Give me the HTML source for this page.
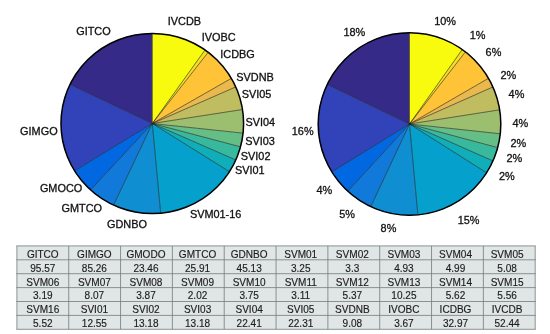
<!DOCTYPE html>
<html><head><meta charset="utf-8"><title>Pie</title>
<style>
html,body{margin:0;padding:0;background:#fff;}
svg{display:block;will-change:transform}
text{font-family:"Liberation Sans",Arial,Helvetica,sans-serif;fill:#111;stroke:#111;stroke-width:0.3px}
.pl text{font-size:10.9px}
.tb text{font-size:10.05px;fill:#1c1c1c;stroke:#1c1c1c;stroke-width:0.15px}
.tb line{stroke:#737b7b;stroke-width:0.8}
</style></head><body>
<svg width="550" height="334" viewBox="0 0 550 334">
<rect width="550" height="334" fill="#fff"/>
<g><path d="M152.30,123.50L152.30,33.40A91.3,90.1 0 0 0 70.03,84.44Z" fill="#352A87" stroke="#352A87" stroke-width="0.3"/>
<path d="M152.30,123.50L70.03,84.44A91.3,90.1 0 0 0 74.60,170.82Z" fill="#3243BA" stroke="#3243BA" stroke-width="0.3"/>
<path d="M152.30,123.50L74.60,170.82A91.3,90.1 0 0 0 90.58,189.89Z" fill="#0268E1" stroke="#0268E1" stroke-width="0.3"/>
<path d="M152.30,123.50L90.58,189.89A91.3,90.1 0 0 0 113.57,205.09Z" fill="#1079DA" stroke="#1079DA" stroke-width="0.3"/>
<path d="M152.30,123.50L113.57,205.09A91.3,90.1 0 0 0 160.68,213.22Z" fill="#108ED2" stroke="#108ED2" stroke-width="0.3"/>
<path d="M152.30,123.50L160.68,213.22A91.3,90.1 0 0 0 229.45,171.68Z" fill="#06A0CD" stroke="#06A0CD" stroke-width="0.3"/>
<path d="M152.30,123.50L229.45,171.68A91.3,90.1 0 0 0 235.78,159.98Z" fill="#0FAEB9" stroke="#0FAEB9" stroke-width="0.3"/>
<path d="M152.30,123.50L235.78,159.98A91.3,90.1 0 0 0 240.48,146.84Z" fill="#38B99E" stroke="#38B99E" stroke-width="0.3"/>
<path d="M152.30,123.50L240.48,146.84A91.3,90.1 0 0 0 243.08,133.14Z" fill="#65BE86" stroke="#65BE86" stroke-width="0.3"/>
<path d="M152.30,123.50L243.08,133.14A91.3,90.1 0 0 0 242.49,109.50Z" fill="#9CBF6F" stroke="#9CBF6F" stroke-width="0.3"/>
<path d="M152.30,123.50L242.49,109.50A91.3,90.1 0 0 0 235.74,86.93Z" fill="#C0BC60" stroke="#C0BC60" stroke-width="0.3"/>
<path d="M152.30,123.50L235.74,86.93A91.3,90.1 0 0 0 231.32,78.37Z" fill="#E9B94E" stroke="#E9B94E" stroke-width="0.3"/>
<path d="M152.30,123.50L231.32,78.37A91.3,90.1 0 0 0 208.20,52.26Z" fill="#FFC337" stroke="#FFC337" stroke-width="0.3"/>
<path d="M152.30,123.50L208.20,52.26A91.3,90.1 0 0 0 205.04,49.95Z" fill="#F5DE21" stroke="#F5DE21" stroke-width="0.3"/>
<path d="M152.30,123.50L205.04,49.95A91.3,90.1 0 0 0 152.30,33.40Z" fill="#F9FB0E" stroke="#F9FB0E" stroke-width="0.3"/>
<line x1="152.30" y1="123.50" x2="152.30" y2="33.80" stroke="#1c1c1c" stroke-width="0.6"/>
<line x1="152.30" y1="123.50" x2="70.39" y2="84.61" stroke="#1c1c1c" stroke-width="0.6"/>
<line x1="152.30" y1="123.50" x2="74.94" y2="170.61" stroke="#1c1c1c" stroke-width="0.6"/>
<line x1="152.30" y1="123.50" x2="90.85" y2="189.60" stroke="#1c1c1c" stroke-width="0.6"/>
<line x1="152.30" y1="123.50" x2="113.74" y2="204.73" stroke="#1c1c1c" stroke-width="0.6"/>
<line x1="152.30" y1="123.50" x2="160.65" y2="212.82" stroke="#1c1c1c" stroke-width="0.6"/>
<line x1="152.30" y1="123.50" x2="229.11" y2="171.47" stroke="#1c1c1c" stroke-width="0.6"/>
<line x1="152.30" y1="123.50" x2="235.42" y2="159.81" stroke="#1c1c1c" stroke-width="0.6"/>
<line x1="152.30" y1="123.50" x2="240.10" y2="146.73" stroke="#1c1c1c" stroke-width="0.6"/>
<line x1="152.30" y1="123.50" x2="242.68" y2="133.10" stroke="#1c1c1c" stroke-width="0.6"/>
<line x1="152.30" y1="123.50" x2="242.10" y2="109.57" stroke="#1c1c1c" stroke-width="0.6"/>
<line x1="152.30" y1="123.50" x2="235.37" y2="87.09" stroke="#1c1c1c" stroke-width="0.6"/>
<line x1="152.30" y1="123.50" x2="230.98" y2="78.57" stroke="#1c1c1c" stroke-width="0.6"/>
<line x1="152.30" y1="123.50" x2="207.96" y2="52.58" stroke="#1c1c1c" stroke-width="0.6"/>
<line x1="152.30" y1="123.50" x2="204.81" y2="50.28" stroke="#1c1c1c" stroke-width="0.6"/>
<ellipse cx="152.3" cy="123.5" rx="91.3" ry="90.1" fill="none" stroke="#000" stroke-width="1.5"/></g>
<g><path d="M409.50,124.00L409.50,32.75A91.3,91.25 0 0 0 327.23,84.44Z" fill="#352A87" stroke="#352A87" stroke-width="0.3"/>
<path d="M409.50,124.00L327.23,84.44A91.3,91.25 0 0 0 331.80,171.92Z" fill="#3243BA" stroke="#3243BA" stroke-width="0.3"/>
<path d="M409.50,124.00L331.80,171.92A91.3,91.25 0 0 0 347.78,191.24Z" fill="#0268E1" stroke="#0268E1" stroke-width="0.3"/>
<path d="M409.50,124.00L347.78,191.24A91.3,91.25 0 0 0 370.77,206.63Z" fill="#1079DA" stroke="#1079DA" stroke-width="0.3"/>
<path d="M409.50,124.00L370.77,206.63A91.3,91.25 0 0 0 417.88,214.86Z" fill="#108ED2" stroke="#108ED2" stroke-width="0.3"/>
<path d="M409.50,124.00L417.88,214.86A91.3,91.25 0 0 0 486.65,172.79Z" fill="#06A0CD" stroke="#06A0CD" stroke-width="0.3"/>
<path d="M409.50,124.00L486.65,172.79A91.3,91.25 0 0 0 492.98,160.94Z" fill="#0FAEB9" stroke="#0FAEB9" stroke-width="0.3"/>
<path d="M409.50,124.00L492.98,160.94A91.3,91.25 0 0 0 497.68,147.64Z" fill="#38B99E" stroke="#38B99E" stroke-width="0.3"/>
<path d="M409.50,124.00L497.68,147.64A91.3,91.25 0 0 0 500.28,133.77Z" fill="#65BE86" stroke="#65BE86" stroke-width="0.3"/>
<path d="M409.50,124.00L500.28,133.77A91.3,91.25 0 0 0 499.69,109.83Z" fill="#9CBF6F" stroke="#9CBF6F" stroke-width="0.3"/>
<path d="M409.50,124.00L499.69,109.83A91.3,91.25 0 0 0 492.94,86.96Z" fill="#C0BC60" stroke="#C0BC60" stroke-width="0.3"/>
<path d="M409.50,124.00L492.94,86.96A91.3,91.25 0 0 0 488.52,78.29Z" fill="#E9B94E" stroke="#E9B94E" stroke-width="0.3"/>
<path d="M409.50,124.00L488.52,78.29A91.3,91.25 0 0 0 465.40,51.86Z" fill="#FFC337" stroke="#FFC337" stroke-width="0.3"/>
<path d="M409.50,124.00L465.40,51.86A91.3,91.25 0 0 0 462.24,49.52Z" fill="#F5DE21" stroke="#F5DE21" stroke-width="0.3"/>
<path d="M409.50,124.00L462.24,49.52A91.3,91.25 0 0 0 409.50,32.75Z" fill="#F9FB0E" stroke="#F9FB0E" stroke-width="0.3"/>
<line x1="409.50" y1="124.00" x2="409.50" y2="33.15" stroke="#1c1c1c" stroke-width="0.6"/>
<line x1="409.50" y1="124.00" x2="327.59" y2="84.61" stroke="#1c1c1c" stroke-width="0.6"/>
<line x1="409.50" y1="124.00" x2="332.14" y2="171.71" stroke="#1c1c1c" stroke-width="0.6"/>
<line x1="409.50" y1="124.00" x2="348.05" y2="190.95" stroke="#1c1c1c" stroke-width="0.6"/>
<line x1="409.50" y1="124.00" x2="370.94" y2="206.27" stroke="#1c1c1c" stroke-width="0.6"/>
<line x1="409.50" y1="124.00" x2="417.85" y2="214.47" stroke="#1c1c1c" stroke-width="0.6"/>
<line x1="409.50" y1="124.00" x2="486.31" y2="172.58" stroke="#1c1c1c" stroke-width="0.6"/>
<line x1="409.50" y1="124.00" x2="492.62" y2="160.78" stroke="#1c1c1c" stroke-width="0.6"/>
<line x1="409.50" y1="124.00" x2="497.30" y2="147.53" stroke="#1c1c1c" stroke-width="0.6"/>
<line x1="409.50" y1="124.00" x2="499.88" y2="133.72" stroke="#1c1c1c" stroke-width="0.6"/>
<line x1="409.50" y1="124.00" x2="499.30" y2="109.89" stroke="#1c1c1c" stroke-width="0.6"/>
<line x1="409.50" y1="124.00" x2="492.57" y2="87.12" stroke="#1c1c1c" stroke-width="0.6"/>
<line x1="409.50" y1="124.00" x2="488.18" y2="78.49" stroke="#1c1c1c" stroke-width="0.6"/>
<line x1="409.50" y1="124.00" x2="465.16" y2="52.17" stroke="#1c1c1c" stroke-width="0.6"/>
<line x1="409.50" y1="124.00" x2="462.01" y2="49.84" stroke="#1c1c1c" stroke-width="0.6"/>
<ellipse cx="409.5" cy="124.0" rx="91.3" ry="91.25" fill="none" stroke="#000" stroke-width="1.5"/></g>
<g class="pl"><text x="76.20" y="35.1" text-anchor="start">GITCO</text>
<text x="167.80" y="24.6" text-anchor="start">IVCDB</text>
<text x="201.70" y="40.7" text-anchor="start">IVOBC</text>
<text x="220.30" y="57.5" text-anchor="start">ICDBG</text>
<text x="236.30" y="81.3" text-anchor="start">SVDNB</text>
<text x="241.70" y="97.5" text-anchor="start">SVI05</text>
<text x="245.50" y="126" text-anchor="start">SVI04</text>
<text x="245.20" y="144.5" text-anchor="start">SVI03</text>
<text x="240.80" y="160.4" text-anchor="start">SVI02</text>
<text x="234.90" y="173.8" text-anchor="start">SVI01</text>
<text x="189.90" y="218.4" text-anchor="start">SVM01-16</text>
<text x="107.00" y="227.7" text-anchor="start">GDNBO</text>
<text x="61.50" y="212.3" text-anchor="start">GMTCO</text>
<text x="39.90" y="192" text-anchor="start">GMOCO</text>
<text x="20.10" y="135.3" text-anchor="start">GIMGO</text></g>
<g class="pl"><text x="343.40" y="36.1" text-anchor="start">18%</text>
<text x="434.20" y="24.7" text-anchor="start">10%</text>
<text x="469.70" y="39.3" text-anchor="start">1%</text>
<text x="485.60" y="56.4" text-anchor="start">6%</text>
<text x="500.50" y="78.9" text-anchor="start">2%</text>
<text x="508.60" y="97.7" text-anchor="start">4%</text>
<text x="512.50" y="126.5" text-anchor="start">4%</text>
<text x="510.40" y="146.9" text-anchor="start">2%</text>
<text x="506.50" y="161.9" text-anchor="start">2%</text>
<text x="499.00" y="180.4" text-anchor="start">2%</text>
<text x="457.70" y="223.7" text-anchor="start">15%</text>
<text x="380.60" y="232.1" text-anchor="start">8%</text>
<text x="339.30" y="217.6" text-anchor="start">5%</text>
<text x="316.40" y="193.9" text-anchor="start">4%</text>
<text x="291.80" y="134.9" text-anchor="start">16%</text></g>
<g class="tb" style="opacity:0.999"><rect x="16.9" y="245.9" width="518.30" height="83.40" fill="#e0e6e5"/><line x1="16.4" y1="245.90" x2="535.7" y2="245.90"/><line x1="16.4" y1="259.80" x2="535.7" y2="259.80"/><line x1="16.4" y1="273.70" x2="535.7" y2="273.70"/><line x1="16.4" y1="287.60" x2="535.7" y2="287.60"/><line x1="16.4" y1="301.50" x2="535.7" y2="301.50"/><line x1="16.4" y1="315.40" x2="535.7" y2="315.40"/><line x1="16.4" y1="329.30" x2="535.7" y2="329.30"/><line x1="16.90" y1="245.9" x2="16.90" y2="329.3"/><line x1="68.73" y1="245.9" x2="68.73" y2="329.3"/><line x1="120.56" y1="245.9" x2="120.56" y2="329.3"/><line x1="172.39" y1="245.9" x2="172.39" y2="329.3"/><line x1="224.22" y1="245.9" x2="224.22" y2="329.3"/><line x1="276.05" y1="245.9" x2="276.05" y2="329.3"/><line x1="327.88" y1="245.9" x2="327.88" y2="329.3"/><line x1="379.71" y1="245.9" x2="379.71" y2="329.3"/><line x1="431.54" y1="245.9" x2="431.54" y2="329.3"/><line x1="483.37" y1="245.9" x2="483.37" y2="329.3"/><line x1="535.20" y1="245.9" x2="535.20" y2="329.3"/>
<text x="42.80" y="257.75" text-anchor="middle">GITCO</text><text x="94.39" y="257.75" text-anchor="middle">GIMGO</text><text x="145.98" y="257.75" text-anchor="middle">GMODO</text><text x="197.57" y="257.75" text-anchor="middle">GMTCO</text><text x="249.16" y="257.75" text-anchor="middle">GDNBO</text><text x="300.75" y="257.75" text-anchor="middle">SVM01</text><text x="352.34" y="257.75" text-anchor="middle">SVM02</text><text x="403.93" y="257.75" text-anchor="middle">SVM03</text><text x="455.52" y="257.75" text-anchor="middle">SVM04</text><text x="507.11" y="257.75" text-anchor="middle">SVM05</text><text x="42.80" y="271.65" text-anchor="middle">95.57</text><text x="94.39" y="271.65" text-anchor="middle">85.26</text><text x="145.98" y="271.65" text-anchor="middle">23.46</text><text x="197.57" y="271.65" text-anchor="middle">25.91</text><text x="249.16" y="271.65" text-anchor="middle">45.13</text><text x="300.75" y="271.65" text-anchor="middle">3.25</text><text x="352.34" y="271.65" text-anchor="middle">3.3</text><text x="403.93" y="271.65" text-anchor="middle">4.93</text><text x="455.52" y="271.65" text-anchor="middle">4.99</text><text x="507.11" y="271.65" text-anchor="middle">5.08</text><text x="42.80" y="285.55" text-anchor="middle">SVM06</text><text x="94.39" y="285.55" text-anchor="middle">SVM07</text><text x="145.98" y="285.55" text-anchor="middle">SVM08</text><text x="197.57" y="285.55" text-anchor="middle">SVM09</text><text x="249.16" y="285.55" text-anchor="middle">SVM10</text><text x="300.75" y="285.55" text-anchor="middle">SVM11</text><text x="352.34" y="285.55" text-anchor="middle">SVM12</text><text x="403.93" y="285.55" text-anchor="middle">SVM13</text><text x="455.52" y="285.55" text-anchor="middle">SVM14</text><text x="507.11" y="285.55" text-anchor="middle">SVM15</text><text x="42.80" y="299.45" text-anchor="middle">3.19</text><text x="94.39" y="299.45" text-anchor="middle">8.07</text><text x="145.98" y="299.45" text-anchor="middle">3.87</text><text x="197.57" y="299.45" text-anchor="middle">2.02</text><text x="249.16" y="299.45" text-anchor="middle">3.75</text><text x="300.75" y="299.45" text-anchor="middle">3.11</text><text x="352.34" y="299.45" text-anchor="middle">5.37</text><text x="403.93" y="299.45" text-anchor="middle">10.25</text><text x="455.52" y="299.45" text-anchor="middle">5.62</text><text x="507.11" y="299.45" text-anchor="middle">5.56</text><text x="42.80" y="313.35" text-anchor="middle">SVM16</text><text x="94.39" y="313.35" text-anchor="middle">SVI01</text><text x="145.98" y="313.35" text-anchor="middle">SVI02</text><text x="197.57" y="313.35" text-anchor="middle">SVI03</text><text x="249.16" y="313.35" text-anchor="middle">SVI04</text><text x="300.75" y="313.35" text-anchor="middle">SVI05</text><text x="352.34" y="313.35" text-anchor="middle">SVDNB</text><text x="403.93" y="313.35" text-anchor="middle">IVOBC</text><text x="455.52" y="313.35" text-anchor="middle">ICDBG</text><text x="507.11" y="313.35" text-anchor="middle">IVCDB</text><text x="42.80" y="327.25" text-anchor="middle">5.52</text><text x="94.39" y="327.25" text-anchor="middle">12.55</text><text x="145.98" y="327.25" text-anchor="middle">13.18</text><text x="197.57" y="327.25" text-anchor="middle">13.18</text><text x="249.16" y="327.25" text-anchor="middle">22.41</text><text x="300.75" y="327.25" text-anchor="middle">22.31</text><text x="352.34" y="327.25" text-anchor="middle">9.08</text><text x="403.93" y="327.25" text-anchor="middle">3.67</text><text x="455.52" y="327.25" text-anchor="middle">32.97</text><text x="507.11" y="327.25" text-anchor="middle">52.44</text></g>
</svg>
</body></html>
